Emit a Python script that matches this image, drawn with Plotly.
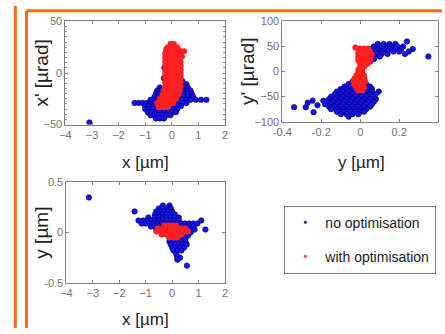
import plotly.graph_objects as go

# ---------------- data ----------------
# each row: (vertical value, [horizontal values])

# Panel 1: x [um] vs x' [urad]
p1_blue_rows = [
    (-8, [0.3, 0.4]),
    (-11, [0.3, 0.45, 0.55]),
    (-14, [-0.45, 0.3, 0.45, 0.6]),
    (-17, [-0.55, -0.4, 0.3, 0.45, 0.6, 0.7]),
    (-20, [-0.6, -0.45, 0.3, 0.45, 0.6, 0.75]),
    (-23, [-0.65, -0.5, 0.3, 0.45, 0.6, 0.8]),
    (-26, [-0.8, -0.65, -0.5, 0.25, 0.4, 0.55, 0.7, 0.9, 1.1, 1.3]),
    (-29, [-1.4, -1.25, -1.1, -0.95, -0.8, -0.65, 0.1, 0.25, 0.4, 0.55]),
    (-32, [-1.0, -0.85, -0.7, -0.55, -0.4, -0.25, -0.1, 0.05, 0.2, 0.35]),
    (-35, [-1.0, -0.85, -0.7, -0.55, -0.4, -0.25, -0.1, 0.05, 0.2]),
    (-38, [-0.9, -0.75, -0.6, -0.45, -0.3, -0.15, 0.0, 0.15]),
    (-41, [-0.8, -0.65, -0.5, -0.35, -0.2, -0.05]),
    (-44, [-0.6, -0.45, -0.3]),
    (-48, [-3.1]),
    (23, [-0.2]),
    (5, [-0.28]),
    (-5, [-0.3]),
]
p1_red_rows = [
    (28, [-0.05, 0.08]),
    (25, [-0.15, -0.02, 0.1, 0.2]),
    (22, [-0.2, -0.08, 0.04, 0.16, 0.28]),
    (21, [0.46]),
    (19, [-0.25, -0.13, -0.01, 0.11, 0.23, 0.33]),
    (16, [0.38]),
    (15, [-0.25, -0.13, -0.01, 0.11, 0.23, 0.33]),
    (11, [-0.25, -0.13, -0.01, 0.11, 0.23, 0.33]),
    (7, [-0.25, -0.13, -0.01, 0.11, 0.23, 0.33]),
    (3, [-0.25, -0.13, -0.01, 0.11, 0.23, 0.33]),
    (-1, [-0.25, -0.13, -0.01, 0.11, 0.23, 0.33]),
    (-5, [-0.25, -0.13, -0.01, 0.11, 0.23, 0.33]),
    (-9, [-0.25, -0.13, -0.01, 0.11, 0.23, 0.33]),
    (-13, [-0.25, -0.13, -0.01, 0.11, 0.23, 0.33]),
    (-17, [-0.3, -0.18, -0.06, 0.06, 0.18, 0.3]),
    (-21, [-0.35, -0.23, -0.11, 0.01, 0.13, 0.25]),
    (-25, [-0.45, -0.33, -0.21, -0.09, 0.03, 0.15]),
    (-29, [-0.55, -0.43, -0.31, -0.19, -0.07, 0.05]),
    (-33, [-0.5, -0.38, -0.26, -0.14]),
]

# Panel 2: y [um] vs y' [urad]
p2_blue_rows = [
    (60, [0.24]),
    (55, [0.09, 0.12, 0.15, 0.18]),
    (50, [0.07, 0.1, 0.13, 0.16, 0.19, 0.22]),
    (45, [0.06, 0.09, 0.12, 0.15, 0.18, 0.21, 0.27]),
    (40, [0.05, 0.08, 0.11, 0.14, 0.17, 0.2, 0.25]),
    (35, [0.05, 0.08, 0.11, 0.14, 0.23]),
    (30, [0.04, 0.07, 0.1, 0.35]),
    (25, [0.04, 0.07]),
    (20, [0.03, 0.05]),
    (15, [0.03]),
    (-20, [-0.04]),
    (-25, [-0.06, -0.03, 0.03]),
    (-30, [-0.08, -0.05, -0.02, 0.03, 0.05]),
    (-35, [-0.1, -0.07, -0.04, -0.01, 0.03, 0.06]),
    (-40, [-0.12, -0.09, -0.06, -0.03, 0.0, 0.03, 0.06, 0.095]),
    (-45, [-0.13, -0.1, -0.07, -0.04, -0.01, 0.02, 0.05, 0.08]),
    (-50, [-0.15, -0.12, -0.09, -0.06, -0.03, 0.0, 0.03, 0.06]),
    (-55, [-0.16, -0.13, -0.1, -0.07, -0.04, -0.01, 0.02, 0.05, 0.08]),
    (-58, [-0.245, -0.19]),
    (-60, [-0.17, -0.14, -0.11, -0.08, -0.05, -0.02, 0.01, 0.04, 0.07]),
    (-62, [-0.27]),
    (-65, [-0.18, -0.15, -0.12, -0.09, -0.06, -0.03, 0.0, 0.03, 0.06]),
    (-67, [-0.22]),
    (-70, [-0.16, -0.13, -0.1, -0.07, -0.04, -0.01, 0.02, 0.05]),
    (-71, [-0.34, -0.28]),
    (-75, [-0.15, -0.12, -0.09, -0.06, -0.03, 0.0, 0.03]),
    (-80, [-0.12, -0.09, -0.06, -0.03, 0.0, 0.02]),
    (-81, [-0.24]),
    (-85, [-0.1, -0.07, -0.04, -0.01]),
    (-90, [-0.06]),
]
p2_red_rows = [
    (48, [-0.025]),
    (46, [0.0, 0.02, 0.04]),
    (40, [-0.01, 0.01, 0.03, 0.05]),
    (34, [-0.01, 0.01, 0.03, 0.05, 0.06]),
    (28, [-0.01, 0.01, 0.03, 0.05]),
    (22, [-0.01, 0.01, 0.03, 0.05]),
    (16, [0.0, 0.02, 0.04]),
    (10, [0.0, 0.02]),
    (4, [-0.01, 0.01]),
    (-2, [-0.01, 0.01]),
    (-8, [-0.02, 0.0, 0.02]),
    (-14, [-0.03, -0.01, 0.01, 0.02]),
    (-20, [-0.035, -0.015, 0.005, 0.025]),
    (-26, [-0.03, -0.01, 0.01]),
    (-32, [-0.02, 0.0, 0.02]),
    (-38, [-0.01, 0.01]),
]

# Panel 3: x [um] vs y [um]
p3_blue_rows = [
    (0.35, [-3.15]),
    (0.27, [-0.35, -0.1]),
    (0.24, [-0.5, -0.35, -0.2, -0.05]),
    (0.21, [-1.42, -0.6, -0.45, -0.3, -0.15, 0.0]),
    (0.18, [-0.65, -0.5, -0.35, -0.2, -0.05, 0.1]),
    (0.15, [-0.9, -0.65, -0.5, -0.35, -0.2, -0.05, 0.1, 0.25]),
    (0.12, [-1.27, -1.1, -0.95, -0.8, -0.65, -0.5, -0.35, -0.2, -0.05, 0.1, 0.25, 1.1]),
    (0.09, [-1.15, -1.0, -0.85, -0.7, -0.55, -0.4, -0.25, -0.1, 0.05, 0.2, 0.35, 0.5, 0.65, 0.8, 0.95]),
    (0.06, [-0.8, -0.65, -0.5, -0.35, 0.35, 0.5, 0.65, 0.8]),
    (0.03, [-0.6, -0.45, 0.4, 0.55, 0.7, 0.85, 1.26]),
    (0.0, [0.4, 0.55, 0.7]),
    (-0.03, [-0.1, 0.3, 0.45, 0.6]),
    (-0.06, [-0.1, 0.05, 0.2, 0.35, 0.5]),
    (-0.09, [-0.1, 0.05, 0.2, 0.35, 0.5]),
    (-0.12, [-0.05, 0.1, 0.25, 0.4, 0.55]),
    (-0.15, [0.0, 0.15, 0.3, 0.45]),
    (-0.18, [0.05, 0.2, 0.35]),
    (-0.22, [0.16]),
    (-0.25, [0.2, 0.3]),
    (-0.27, [0.2]),
    (-0.33, [0.56]),
]
p3_red_rows = [
    (0.07, [-0.3, -0.15, 0.0, 0.15]),
    (0.04, [-0.55, -0.4, -0.25, -0.1, 0.05, 0.2, 0.35, 0.5]),
    (0.01, [-0.6, -0.45, -0.3, -0.15, 0.0, 0.15, 0.3, 0.45, 0.6]),
    (-0.02, [-0.4, -0.25, -0.1, 0.05, 0.2, 0.35]),
    (-0.05, [-0.1, 0.05, 0.2]),
]

series_names = ["no optimisation", "with optimisation"]


def flatten(rows):
    xs, ys = [], []
    for v, hs in rows:
        for h in hs:
            xs.append(h)
            ys.append(v)
    return xs, ys


# ---------------- figure ----------------
W, H = 445, 334
BLUE = "#1414e6"
BLUE_EDGE = "#00006e"
RED = "#ff2020"
ORANGE = "#ff6a13"
FONT = "Liberation Sans"


def px(xp):
    return xp / W


def py(yp):
    return 1 - yp / H


fig = go.Figure()

panels = [
    ("x", "y", p1_blue_rows, p1_red_rows),
    ("x2", "y2", p2_blue_rows, p2_red_rows),
    ("x3", "y3", p3_blue_rows, p3_red_rows),
]
for xa, ya, brows, rrows in panels:
    bx, by = flatten(brows)
    rx, ry = flatten(rrows)
    fig.add_trace(go.Scatter(x=bx, y=by, mode="markers", xaxis=xa, yaxis=ya, showlegend=False,
                             marker=dict(size=5.5, color=BLUE, line=dict(color=BLUE_EDGE, width=0.6))))
    fig.add_trace(go.Scatter(x=rx, y=ry, mode="markers", xaxis=xa, yaxis=ya, showlegend=False,
                             marker=dict(size=6, color=RED, line=dict(width=0))))

# legend-only traces
fig.add_trace(go.Scatter(x=[None], y=[None], mode="markers", name=series_names[0], legendgroup="a",
                         marker=dict(size=3, color="#1a1a80")))
fig.add_trace(go.Scatter(x=[None], y=[None], mode="markers", name=series_names[1], legendgroup="b",
                         marker=dict(size=3, color="#d04060")))

axis_common = dict(showgrid=False, zeroline=False, showline=True, linecolor="#808080", linewidth=1,
                   mirror="ticks", ticks="inside", ticklen=3, tickcolor="#808080",
                   tickfont=dict(family=FONT, size=11, color="#707070"))

fig.update_layout(
    width=W, height=H, margin=dict(l=0, r=0, t=0, b=0),
    paper_bgcolor="white", plot_bgcolor="white",
    xaxis=dict(domain=[px(58), px(222)], range=[-4, 2], tickvals=[-4, -3, -2, -1, 0, 1, 2],
               anchor="y", **axis_common),
    yaxis=dict(domain=[py(123), py(16)], range=[-50, 50], tickvals=[-50, 0, 50], anchor="x",
               minor=dict(ticks="inside", ticklen=2, dtick=5, tickcolor="#909090"), **axis_common),
    xaxis2=dict(domain=[px(281), px(441)], range=[-0.4, 0.4], tickvals=[-0.4, -0.2, 0, 0.2, 0.4],
                ticktext=["-0.4", "-0.2", "0", "0.2", "0.4"], anchor="y2", **axis_common),
    yaxis2=dict(domain=[py(120), py(16)], range=[-100, 100], tickvals=[-100, -50, 0, 50, 100],
                anchor="x2", **axis_common),
    xaxis3=dict(domain=[px(59), px(222)], range=[-4, 2], tickvals=[-4, -3, -2, -1, 0, 1, 2],
                anchor="y3", **axis_common),
    yaxis3=dict(domain=[py(287), py(183)], range=[-0.5, 0.5], tickvals=[-0.5, 0, 0.5],
                ticktext=["-0.5", "0", "0.5"], anchor="x3", **axis_common),
    legend=dict(x=px(283), y=py(207), xanchor="left", yanchor="top",
                bordercolor="#808080", borderwidth=1, bgcolor="white",
                font=dict(family=FONT, size=14, color="#1a1a1a"),
                traceorder="grouped", tracegroupgap=13, itemwidth=30),
    showlegend=True,
)

# axis titles
title_font_x = dict(family=FONT, size=17, color="#222222")
title_font_y = dict(family=FONT, size=19, color="#222222")
annos = [
    (140, 162, "x [µm]", 0, title_font_x),
    (362, 162, "y [µm]", 0, title_font_x),
    (140, 325, "x [µm]", 0, title_font_x),
    (33, 70, "x' [µrad]", -90, title_font_y),
    (245, 68, "y' [µrad]", -90, title_font_y),
    (33, 235, "y [µm]", -90, title_font_y),
]
for xp, yp, t, ang, f in annos:
    fig.add_annotation(x=px(xp), y=py(yp), xref="paper", yref="paper", text=t, showarrow=False,
                       textangle=ang, font=f, xanchor="center", yanchor="middle")

# orange frame lines
shapes = [
    dict(type="line", x0=px(6.5), x1=px(6.5), y0=0, y1=1),
    dict(type="line", x0=px(18), x1=px(18), y0=0, y1=py(5)),
    dict(type="line", x0=px(18), x1=1, y0=py(5), y1=py(5)),
]
for s in shapes:
    fig.add_shape(xref="paper", yref="paper", line=dict(color=ORANGE, width=3), **s)

fig.write_html("out.html")
